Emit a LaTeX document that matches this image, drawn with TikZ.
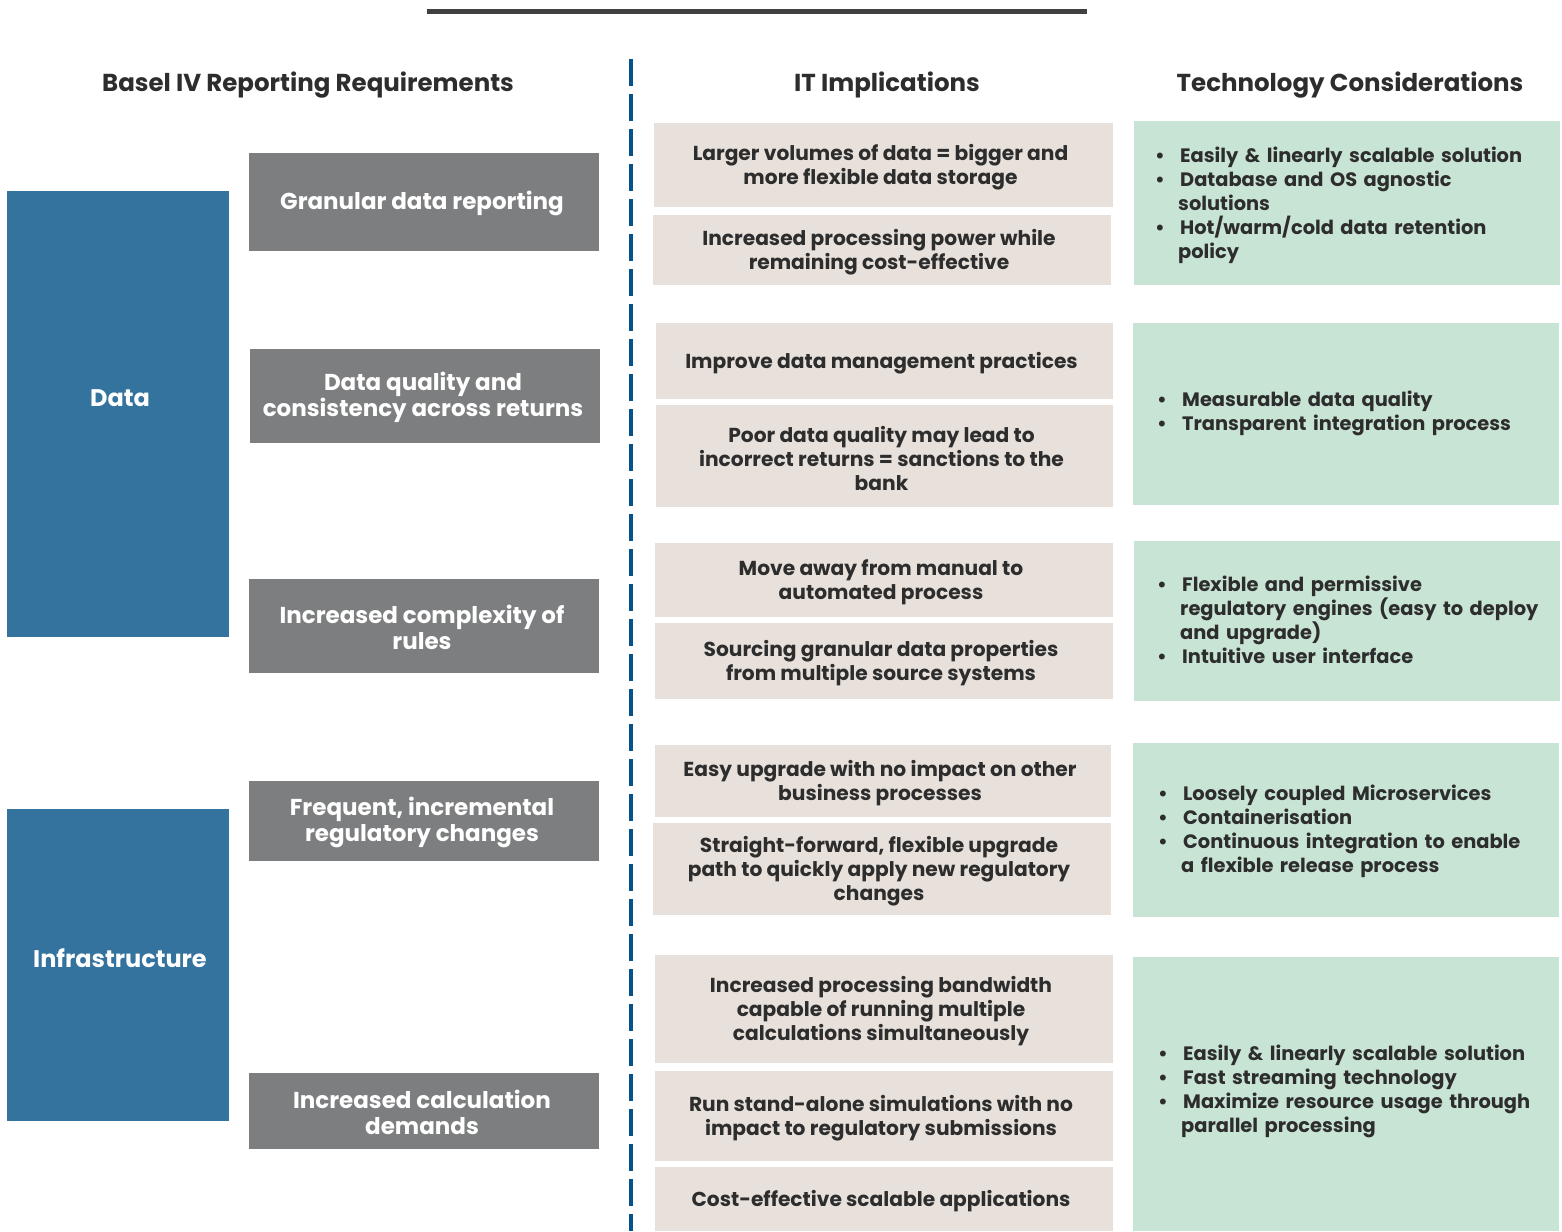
\documentclass[tikz,border=0pt]{standalone}
\usepackage{fontspec}
\setmainfont{Poppins}
\definecolor{barc}{RGB}{64,64,64}
\definecolor{bluec}{RGB}{51,115,158}
\definecolor{grayc}{RGB}{125,126,128}
\definecolor{beigec}{RGB}{231,224,219}
\definecolor{greenc}{RGB}{200,228,212}
\definecolor{txtc}{RGB}{45,45,45}
\definecolor{dashc}{RGB}{5,84,137}
\newcommand\bul{\par\hangindent=23pt\hangafter=1\noindent\makebox[25pt][l]{\textbullet}}
\newcommand\rect[6]{\node[#2, minimum width={#5-#3}, minimum height={#6-#4}] (#1) at ({(#3+#5)/2},{(#4+#6)/2}) {};}
\newcommand\bx[8]{\rect{#1}{#2}{#4}{#5}{#6}{#7}\node[#3] (#1t) at (#1.center) {#8};}
\begin{document}
\begin{tikzpicture}[x=1pt,y=-1pt,
  boxbase/.style={inner sep=0pt, outer sep=0pt},
  beigebox/.style={boxbase, fill=beigec},
  greenbox/.style={boxbase, fill=greenc},
  graybox/.style={boxbase, fill=grayc},
  bluebox/.style={boxbase, fill=bluec},
  beigetext/.style={inner sep=0pt, align=center, text=txtc, xshift=-3pt, yshift=-2.5pt, font=\fontsize{20.2}{24}\selectfont\bfseries},
  graytext/.style={inner sep=0pt, align=center, text=white, xshift=-2pt, yshift=-1.5pt, font=\fontsize{23}{26}\selectfont\bfseries},
  bluetext/.style={inner sep=0pt, text=white, font=\fontsize{24}{28}\selectfont\bfseries},
  header/.style={inner sep=0pt, text=txtc, font=\fontsize{24.5}{28}\selectfont\bfseries},
  gtext/.style={inner sep=0pt, anchor=west, text=txtc, text width=400pt, align=left, font=\fontsize{19.4}{24}\selectfont\bfseries},
  dashline/.style={draw=dashc, line width=4pt, dash pattern=on 27pt off 8pt},
  topbar/.style={draw=barc, line width=5pt}]
\useasboundingbox (0,0) rectangle (1562,1231);
% top bar and divider
\coordinate (tb1) at (427,11.5);
\coordinate (tb2) at (1087,11.5);
\draw[topbar] (tb1) -- (tb2);
\coordinate (dv1) at (631,59);
\coordinate (dv2) at (631,1231);
\draw[dashline] (dv1) -- (dv2);
% headers
\node[header] (h1) at (308,85) {Basel IV Reporting Requirements};
\node[header] (h2) at (887,85) {IT Implications};
\node[header] (h3) at (1350,85) {Technology Considerations};
% blue boxes
\rect{data}{bluebox}{7}{191}{229}{637}
\rect{infra}{bluebox}{7}{809}{229}{1121}
\node[bluetext] (datat) at (120,398) {Data};
\node[bluetext] (infrat) at (120,958) {Infrastructure};
% gray boxes
\bx{r1}{graybox}{graytext}{249}{153}{599}{251}{Granular data reporting}
\bx{r2}{graybox}{graytext}{250}{349}{600}{443}{Data quality and\\consistency across returns}
\bx{r3}{graybox}{graytext}{249}{579}{599}{673}{Increased complexity of\\rules}
\bx{r4}{graybox}{graytext}{249}{781}{599}{861}{Frequent, incremental\\regulatory changes}
\bx{r5}{graybox}{graytext}{249}{1073}{599}{1149}{Increased calculation\\demands}
% beige boxes
\bx{i1}{beigebox}{beigetext}{654}{123}{1113}{207}{Larger volumes of data = bigger and\\more flexible data storage}
\bx{i2}{beigebox}{beigetext}{653}{215}{1111}{285}{Increased processing power while\\remaining cost-effective}
\bx{i3}{beigebox}{beigetext}{656}{323}{1113}{399}{Improve data management practices}
\bx{i4}{beigebox}{beigetext}{656}{405}{1113}{507}{Poor data quality may lead to\\incorrect returns = sanctions to the\\bank}
\bx{i5}{beigebox}{beigetext}{655}{543}{1113}{617}{Move away from manual to\\automated process}
\bx{i6}{beigebox}{beigetext}{655}{623}{1113}{699}{Sourcing granular data properties\\from multiple source systems}
\bx{i7}{beigebox}{beigetext}{655}{745}{1111}{817}{Easy upgrade with no impact on other\\business processes}
\bx{i8}{beigebox}{beigetext}{653}{823}{1111}{915}{Straight-forward, flexible upgrade\\path to quickly apply new regulatory\\changes}
\bx{i9}{beigebox}{beigetext}{655}{955}{1113}{1063}{Increased processing bandwidth\\capable of running multiple\\calculations simultaneously}
\bx{i10}{beigebox}{beigetext}{655}{1071}{1113}{1161}{Run stand-alone simulations with no\\impact to regulatory submissions}
\bx{i11}{beigebox}{beigetext}{655}{1167}{1113}{1231}{Cost-effective scalable applications}
% green boxes
\rect{t1}{greenbox}{1134}{121}{1560}{285}
\rect{t2}{greenbox}{1133}{323}{1559}{505}
\rect{t3}{greenbox}{1134}{541}{1560}{701}
\rect{t4}{greenbox}{1133}{743}{1559}{917}
\rect{t5}{greenbox}{1133}{957}{1559}{1231}
\node[gtext] (t1x) at (1155,201) {\bul Easily \& linearly scalable solution\bul Database and OS agnostic\newline solutions\bul Hot/warm/cold data retention\newline policy\par};
\node[gtext] (t2x) at (1157,409.5) {\bul Measurable data quality\bul Transparent integration process\par};
\node[gtext] (t3x) at (1157,615.5) {\bul Flexible and permissive\newline regulatory engines (easy to deploy\newline and upgrade)\bul Intuitive user interface\par};
\node[gtext] (t4x) at (1158,827) {\bul Loosely coupled Microservices\bul Containerisation\bul Continuous integration to enable\newline a flexible release process\par};
\node[gtext] (t5x) at (1158,1087) {\bul Easily \& linearly scalable solution\bul Fast streaming technology\bul Maximize resource usage through\newline parallel processing\par};
\end{tikzpicture}
\end{document}
